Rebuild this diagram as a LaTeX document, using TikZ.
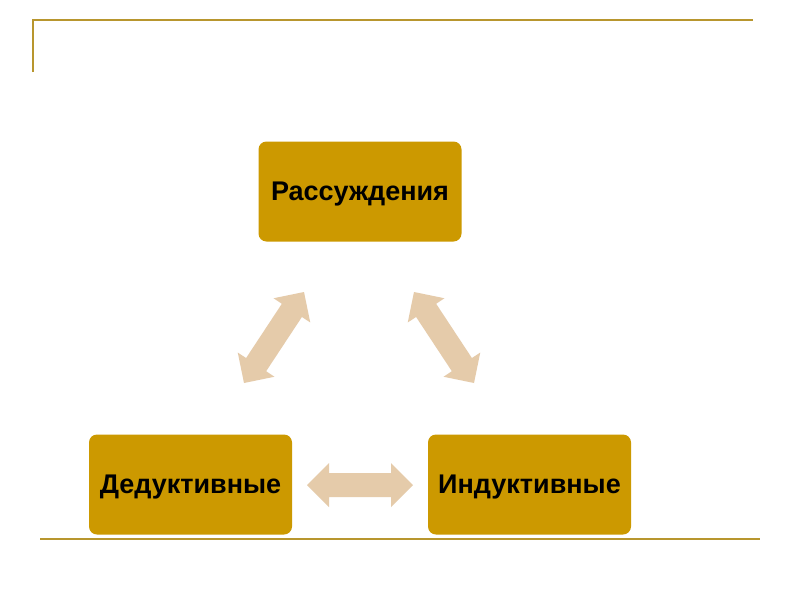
\documentclass[tikz,border=0pt]{standalone}
\usepackage{fontspec}
\setmainfont{Liberation Sans}
\usetikzlibrary{calc}
\definecolor{boxfill}{HTML}{CC9900}
\definecolor{rulecol}{HTML}{B8962E}
\definecolor{arrowfill}{HTML}{E5CBAA}
\tikzset{
  box/.style={fill=boxfill, rounded corners=8pt, minimum width=203pt, minimum height=100pt,
    inner sep=0pt, font=\fontsize{27}{32}\selectfont\bfseries, text=black,
    text height=23pt, text depth=5.7pt},
  rulestyle/.style={draw=rulecol, line width=2.4pt},
  blockarrow/.style={fill=arrowfill, draw=none}
}
% #1,#2: end coordinates; head length 22, head half width 22, shaft half width 12
\newcommand\dblarrow[2]{%
  \path[blockarrow]
    (#1)
    -- ($(#1)!22pt!(#2)!22pt!90:(#2)$)
    -- ($(#1)!22pt!(#2)!12pt!90:(#2)$)
    -- ($(#2)!22pt!(#1)!12pt!-90:(#1)$)
    -- ($(#2)!22pt!(#1)!22pt!-90:(#1)$)
    -- (#2)
    -- ($(#2)!22pt!(#1)!22pt!90:(#1)$)
    -- ($(#2)!22pt!(#1)!12pt!90:(#1)$)
    -- ($(#1)!22pt!(#2)!12pt!-90:(#2)$)
    -- ($(#1)!22pt!(#2)!22pt!-90:(#2)$)
    -- cycle;}
\begin{document}
\begin{tikzpicture}[x=1pt,y=-1pt]
\useasboundingbox[fill=white] (0,0) rectangle (800,600);
% frame rules
\coordinate (tl) at (33,20);
\coordinate (tr) at (753,20);
\coordinate (tv) at (33,72);
\coordinate (bl) at (40,539);
\coordinate (br) at (760,539);
\draw[rulestyle] (tv) -- (tl) -- (tr);
\draw[rulestyle] (bl) -- (br);
% boxes
\node[box] (top) at (360,191.5) {Рассуждения};
\node[box] (left) at (190.5,484.5) {Дедуктивные};
\node[box] (right) at (529.5,484.5) {Индуктивные};
% arrow ends
\coordinate (a1) at (304,292);
\coordinate (a2) at (244,383);
\coordinate (b1) at (414,292);
\coordinate (b2) at (474,383);
\coordinate (c1) at (307,485);
\coordinate (c2) at (413,485);
\dblarrow{a1}{a2}
\dblarrow{b1}{b2}
\dblarrow{c1}{c2}
\end{tikzpicture}
\end{document}
